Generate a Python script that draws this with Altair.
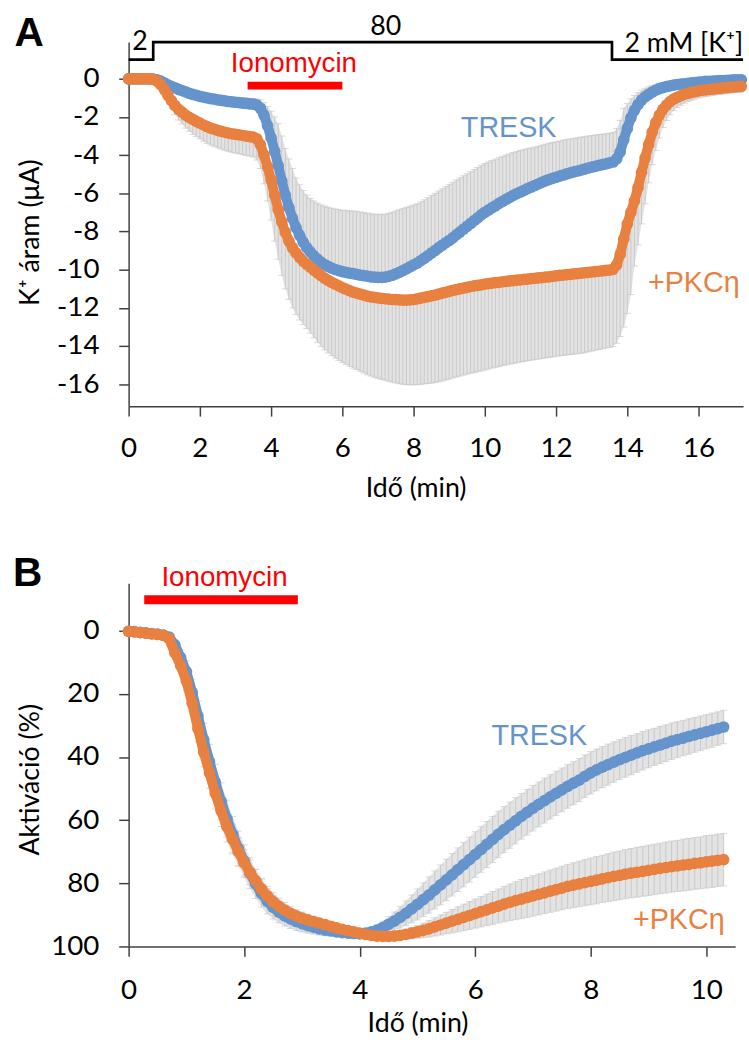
import altair as alt
import pandas as pd

BLUE = "#6594CC"
ORANGE = "#E8803F"
RED = "#FF0000"
GREY_BAR = "#C9C9C9"
GREY_FILL = "#E3E3E3"
AXIS = "#404040"

# ---------------- Panel A: K+ current (uA), sampled every 0.1 min ----------------
TRESK_A = [
    0, 0, 0, 0, 0, 0, 0, -0.02, -0.05, -0.12,
    -0.22, -0.32, -0.40, -0.47, -0.55, -0.62, -0.69, -0.76, -0.82, -0.87,
    -0.92, -0.96, -1.00, -1.04, -1.07, -1.10, -1.13, -1.16, -1.19, -1.21,
    -1.23, -1.25, -1.27, -1.29, -1.31, -1.33, -1.38, -1.55, -1.90, -2.45,
    -3.10, -3.80, -4.55, -5.35, -6.10, -6.75, -7.30, -7.80, -8.20, -8.55,
    -8.84, -9.07, -9.27, -9.45, -9.60, -9.73, -9.83, -9.92, -9.99, -10.05,
    -10.10, -10.14, -10.18, -10.21, -10.24, -10.28, -10.31, -10.34, -10.37, -10.39,
    -10.40, -10.40, -10.39, -10.35, -10.29, -10.22, -10.14, -10.05, -9.95, -9.85,
    -9.75, -9.65, -9.53, -9.40, -9.27, -9.13, -9.00, -8.86, -8.72, -8.60,
    -8.47, -8.33, -8.18, -8.03, -7.88, -7.73, -7.58, -7.43, -7.28, -7.13,
    -7.00, -6.88, -6.76, -6.65, -6.53, -6.42, -6.31, -6.21, -6.11, -6.02,
    -5.93, -5.84, -5.75, -5.67, -5.59, -5.51, -5.43, -5.35, -5.28, -5.22,
    -5.16, -5.10, -5.04, -4.98, -4.93, -4.88, -4.83, -4.78, -4.73, -4.68,
    -4.63, -4.59, -4.54, -4.50, -4.46, -4.41, -4.36, -4.20, -3.83, -3.20,
    -2.60, -2.05, -1.65, -1.35, -1.12, -0.95, -0.82, -0.70, -0.60, -0.52,
    -0.46, -0.41, -0.37, -0.33, -0.30, -0.28, -0.26, -0.24, -0.22, -0.20,
    -0.18, -0.16, -0.14, -0.13, -0.12, -0.11, -0.10, -0.09, -0.08, -0.07,
    -0.06, -0.05, -0.05,
]
TRESK_A_ERR = [
    0.02, 0.02, 0.02, 0.02, 0.02, 0.02, 0.02, 0.02, 0.03, 0.05,
    0.07, 0.09, 0.11, 0.13, 0.15, 0.16, 0.17, 0.18, 0.19, 0.20,
    0.21, 0.22, 0.22, 0.23, 0.23, 0.24, 0.24, 0.25, 0.25, 0.26,
    0.26, 0.27, 0.27, 0.28, 0.28, 0.28, 0.32, 0.45, 0.65, 1.00,
    1.40, 1.80, 2.20, 2.35, 2.45, 2.55, 2.60, 2.60, 2.65, 2.70,
    2.75, 2.80, 2.87, 2.94, 3.00, 3.06, 3.10, 3.14, 3.17, 3.20,
    3.22, 3.24, 3.26, 3.28, 3.30, 3.30, 3.30, 3.30, 3.30, 3.30,
    3.30, 3.30, 3.30, 3.30, 3.30, 3.30, 3.28, 3.26, 3.22, 3.18,
    3.14, 3.10, 3.08, 3.06, 3.04, 3.02, 3.00, 2.98, 2.96, 2.95,
    2.94, 2.91, 2.88, 2.84, 2.80, 2.76, 2.72, 2.68, 2.64, 2.60,
    2.56, 2.52, 2.48, 2.44, 2.40, 2.36, 2.32, 2.28, 2.25, 2.21,
    2.17, 2.13, 2.09, 2.05, 2.01, 1.98, 1.95, 1.92, 1.90, 1.88,
    1.86, 1.84, 1.82, 1.80, 1.78, 1.76, 1.74, 1.72, 1.70, 1.68,
    1.66, 1.64, 1.62, 1.60, 1.58, 1.56, 1.55, 1.60, 1.65, 1.65,
    1.30, 1.00, 0.78, 0.62, 0.52, 0.45, 0.40, 0.35, 0.31, 0.28,
    0.25, 0.23, 0.21, 0.20, 0.19, 0.18, 0.17, 0.16, 0.15, 0.15,
    0.14, 0.14, 0.13, 0.13, 0.12, 0.12, 0.11, 0.11, 0.10, 0.10,
    0.10, 0.10, 0.10,
]
PKC_A = [
    0, 0, 0, 0, 0, 0, 0, -0.03, -0.12, -0.30,
    -0.55, -0.85, -1.15, -1.40, -1.60, -1.75, -1.90, -2.02, -2.13, -2.23,
    -2.32, -2.42, -2.51, -2.58, -2.64, -2.70, -2.75, -2.80, -2.84, -2.88,
    -2.91, -2.94, -2.97, -3.00, -3.03, -3.06, -3.15, -3.45, -4.00, -4.60,
    -5.30, -6.10, -6.85, -7.50, -8.05, -8.50, -8.85, -9.12, -9.35, -9.55,
    -9.72, -9.87, -10.02, -10.17, -10.31, -10.44, -10.56, -10.66, -10.76, -10.85,
    -10.94, -11.02, -11.10, -11.17, -11.23, -11.28, -11.33, -11.38, -11.42, -11.45,
    -11.48, -11.50, -11.52, -11.54, -11.56, -11.57, -11.58, -11.59, -11.59, -11.58,
    -11.56, -11.53, -11.49, -11.45, -11.41, -11.37, -11.33, -11.28, -11.23, -11.18,
    -11.13, -11.08, -11.04, -11.00, -10.96, -10.92, -10.88, -10.85, -10.82, -10.79,
    -10.76, -10.73, -10.70, -10.68, -10.66, -10.63, -10.61, -10.59, -10.57, -10.55,
    -10.53, -10.51, -10.49, -10.47, -10.45, -10.43, -10.41, -10.39, -10.37, -10.35,
    -10.32, -10.30, -10.28, -10.26, -10.24, -10.22, -10.20, -10.18, -10.16, -10.14,
    -10.12, -10.10, -10.08, -10.06, -10.04, -10.02, -9.98, -9.75, -9.20, -8.40,
    -7.60, -7.00, -6.40, -5.70, -4.90, -4.15, -3.45, -2.80, -2.30, -1.90,
    -1.60, -1.38, -1.20, -1.07, -0.97, -0.89, -0.82, -0.76, -0.71, -0.67,
    -0.63, -0.60, -0.58, -0.56, -0.54, -0.52, -0.50, -0.48, -0.46, -0.44,
    -0.42, -0.41, -0.40,
]
PKC_A_ERR = [
    0.02, 0.02, 0.02, 0.02, 0.02, 0.02, 0.02, 0.03, 0.05, 0.10,
    0.18, 0.28, 0.38, 0.48, 0.56, 0.62, 0.68, 0.73, 0.77, 0.80,
    0.83, 0.85, 0.87, 0.89, 0.90, 0.92, 0.93, 0.95, 0.96, 0.97,
    0.98, 0.99, 1.00, 1.01, 1.02, 1.04, 1.10, 1.25, 1.50, 1.80,
    2.10, 2.40, 2.60, 2.80, 2.95, 3.05, 3.15, 3.22, 3.28, 3.32,
    3.36, 3.45, 3.55, 3.63, 3.70, 3.76, 3.80, 3.84, 3.87, 3.90,
    3.92, 3.94, 3.96, 3.98, 4.00, 4.04, 4.08, 4.12, 4.15, 4.18,
    4.21, 4.24, 4.27, 4.30, 4.33, 4.36, 4.39, 4.41, 4.43, 4.45,
    4.47, 4.49, 4.51, 4.53, 4.55, 4.57, 4.58, 4.59, 4.60, 4.60,
    4.60, 4.59, 4.58, 4.57, 4.56, 4.55, 4.54, 4.53, 4.52, 4.51,
    4.49, 4.47, 4.45, 4.43, 4.41, 4.39, 4.37, 4.35, 4.34, 4.32,
    4.30, 4.29, 4.28, 4.27, 4.26, 4.25, 4.24, 4.23, 4.22, 4.22,
    4.21, 4.21, 4.21, 4.20, 4.20, 4.20, 4.20, 4.20, 4.18, 4.16,
    4.14, 4.12, 4.10, 4.08, 4.06, 4.05, 4.04, 4.10, 4.30, 4.60,
    4.70, 4.30, 3.40, 3.00, 2.70, 2.40, 2.00, 1.70, 1.45, 1.20,
    0.95, 0.80, 0.68, 0.60, 0.54, 0.50, 0.46, 0.43, 0.41, 0.39,
    0.37, 0.36, 0.35, 0.34, 0.33, 0.32, 0.32, 0.31, 0.31, 0.30,
    0.30, 0.30, 0.30,
]

# ---------------- Panel B: activation (%), sampled every 0.1 min ----------------
TRESK_B = [
    0.2, 0.3, 0.5, 0.7, 0.9, 1.1, 1.4, 2.0, 4.5, 8.5,
    13.0, 19.5, 27.0, 34.5, 41.5, 48.0, 54.0, 59.5, 64.5, 69.0,
    73.0, 76.8, 80.2, 83.2, 85.7, 87.6, 89.1, 90.3, 91.3, 92.1,
    92.8, 93.4, 93.9, 94.4, 94.8, 95.1, 95.4, 95.6, 95.8, 95.9,
    96.0, 95.8, 95.4, 94.8, 94.0, 93.0, 92.0, 90.8, 89.5, 88.1,
    86.7, 85.2, 83.7, 82.1, 80.5, 78.9, 77.3, 75.7, 74.1, 72.5,
    70.9, 69.3, 67.7, 66.1, 64.5, 63.0, 61.6, 60.2, 58.8, 57.5,
    56.2, 55.0, 53.8, 52.6, 51.5, 50.4, 49.3, 48.3, 47.3, 46.1,
    45.0, 44.1, 43.2, 42.4, 41.6, 40.8, 40.1, 39.4, 38.7, 38.0,
    37.4, 36.8, 36.2, 35.6, 35.0, 34.5, 34.0, 33.5, 33.0, 32.5,
    32.0, 31.5, 31.0, 30.5,
]
TRESK_B_ERR = [
    0.2, 0.2, 0.3, 0.3, 0.3, 0.4, 0.5, 0.8, 1.5, 2.5,
    3.5, 4.2, 4.8, 5.2, 5.5, 5.7, 5.8, 5.8, 5.7, 5.5,
    5.2, 4.9, 4.6, 4.3, 4.0, 3.7, 3.4, 3.2, 3.0, 2.8,
    2.6, 2.4, 2.2, 2.0, 1.8, 1.6, 1.4, 1.2, 1.1, 1.0,
    1.0, 1.1, 1.3, 1.6, 2.0, 2.4, 2.9, 3.4, 3.9, 4.4,
    4.9, 5.3, 5.7, 6.0, 6.3, 6.5, 6.7, 6.9, 7.0, 7.1,
    7.2, 7.2, 7.3, 7.3, 7.3, 7.3, 7.3, 7.3, 7.2, 7.2,
    7.2, 7.1, 7.1, 7.0, 7.0, 6.9, 6.9, 6.8, 6.8, 6.7,
    6.7, 6.6, 6.5, 6.5, 6.4, 6.3, 6.3, 6.2, 6.1, 6.1,
    6.0, 5.9, 5.9, 5.8, 5.8, 5.7, 5.6, 5.6, 5.5, 5.5,
    5.4, 5.4, 5.3, 5.3,
]
PKC_B = [
    0.2, 0.4, 0.6, 0.8, 1.0, 1.2, 1.5, 2.5, 7.0, 11.0,
    16.0, 23.0, 31.0, 38.5, 45.0, 51.5, 57.0, 62.0, 66.0, 70.0,
    73.5, 76.5, 79.2, 81.8, 84.0, 85.8, 87.3, 88.5, 89.5, 90.3,
    91.0, 91.6, 92.1, 92.6, 93.1, 93.6, 94.1, 94.6, 95.0, 95.4,
    95.8, 96.2, 96.5, 96.7, 96.8, 96.8, 96.7, 96.5, 96.2, 95.8,
    95.4, 94.9, 94.4, 93.8, 93.2, 92.6, 92.0, 91.4, 90.8, 90.2,
    89.6, 89.0, 88.4, 87.8, 87.2, 86.6, 86.0, 85.5, 85.0, 84.5,
    84.0, 83.5, 83.0, 82.5, 82.0, 81.5, 81.0, 80.6, 80.2, 79.8,
    79.4, 79.0, 78.6, 78.2, 77.8, 77.5, 77.1, 76.8, 76.5, 76.2,
    75.9, 75.6, 75.3, 75.0, 74.7, 74.5, 74.2, 74.0, 73.7, 73.5,
    73.2, 73.0, 72.7, 72.5,
]
PKC_B_ERR = [
    0.2, 0.2, 0.3, 0.3, 0.3, 0.4, 0.5, 0.7, 1.2, 2.0,
    3.0, 3.7, 4.2, 4.6, 4.9, 5.0, 5.0, 4.9, 4.7, 4.5,
    4.2, 3.9, 3.6, 3.3, 3.0, 2.8, 2.6, 2.4, 2.2, 2.0,
    1.9, 1.8, 1.7, 1.6, 1.5, 1.4, 1.3, 1.2, 1.1, 1.0,
    0.9, 0.9, 0.9, 0.9, 1.0, 1.0, 1.1, 1.3, 1.5, 1.8,
    2.0, 2.3, 2.6, 2.9, 3.2, 3.4, 3.7, 4.0, 4.2, 4.4,
    4.6, 4.8, 5.0, 5.2, 5.4, 5.6, 5.8, 6.0, 6.2, 6.3,
    6.4, 6.5, 6.6, 6.7, 6.8, 6.9, 7.0, 7.1, 7.2, 7.3,
    7.4, 7.5, 7.5, 7.6, 7.7, 7.7, 7.8, 7.8, 7.9, 7.9,
    8.0, 8.0, 8.0, 8.1, 8.1, 8.1, 8.2, 8.2, 8.2, 8.2,
    8.3, 8.3, 8.3, 8.3,
]

X_TICKS_A = [0, 2, 4, 6, 8, 10, 12, 14, 16]
Y_TICKS_A = [0, -2, -4, -6, -8, -10, -12, -14, -16]
X_TICKS_B = [0, 2, 4, 6, 8, 10]
Y_TICKS_B = [0, 20, 40, 60, 80, 100]

TIME_A = [round(0.1 * i, 1) for i in range(len(TRESK_A))]
TIME_B = [round(0.1 * i, 1) for i in range(len(TRESK_B))]

dfA = pd.DataFrame({"t": TIME_A, "tresk": TRESK_A, "terr": TRESK_A_ERR,
                    "pkc": PKC_A, "perr": PKC_A_ERR})
dfA["tresk_hi"] = dfA["tresk"] + dfA["terr"]
dfA["pkc_lo"] = dfA["pkc"] - dfA["perr"]

dfB = pd.DataFrame({"t": TIME_B, "tresk": TRESK_B, "terr": TRESK_B_ERR,
                    "pkc": PKC_B, "perr": PKC_B_ERR})
dfB["tresk_hi"] = dfB["tresk"] + dfB["terr"]
dfB["tresk_lo"] = dfB["tresk"] - dfB["terr"]
dfB["pkc_hi"] = dfB["pkc"] + dfB["perr"]
dfB["pkc_lo"] = dfB["pkc"] - dfB["perr"]


def make_axis(values, title, tx, ty, pad, angle):
    return alt.Axis(
        values=values, title=title, titleX=tx, titleY=ty, titleAngle=angle,
        titleAlign="center", titleBaseline="middle",
        titleFont="Lato", titleFontSize=27, titleFontWeight="normal", titleColor="#000000",
        labelFont="Lato", labelFontSize=28, labelColor="#000000", labelPadding=pad,
        labelExpr="'' + datum.value", labelFlush=False, labelOverlap=False,
        tickSize=10, tickWidth=1.5, tickColor=AXIS,
        domainColor=AXIS, domainWidth=1.5, grid=False,
    )


axXA = make_axis(X_TICKS_A, "Idő (min)", 290, 83, 19, 0)
axYA = make_axis(Y_TICKS_A, "K⁺ áram (μA)", -99, 192, 20, 270)
axXB = make_axis(X_TICKS_B, "Idő (min)", 292, 77.5, 21, 0)
axYB = make_axis(Y_TICKS_B, "Aktiváció (%)", -99, 198, 20, 270)

scXA = alt.Scale(domain=[0, 17.25], nice=False, zero=False)
scYA = alt.Scale(domain=[-17.15, 1.92], nice=False, zero=False)
scXB = alt.Scale(domain=[0, 10.5], nice=False, zero=False)
scYB = alt.Scale(domain=[-15, 100], nice=False, zero=False, reverse=True)


def XA(f):
    return alt.X(f, type="quantitative", scale=scXA, axis=axXA)


def YA(f):
    return alt.Y(f, type="quantitative", scale=scYA, axis=axYA)


def XB(f):
    return alt.X(f, type="quantitative", scale=scXB, axis=axXB)


def YB(f):
    return alt.Y(f, type="quantitative", scale=scYB, axis=axYB)


def label(X, Y, x, y, txt, color, size, align="center", font="Liberation Sans", weight="normal"):
    d = pd.DataFrame({"x": [x], "y": [y], "txt": [txt]})
    return alt.Chart(d).mark_text(
        font=font, fontSize=size, fontWeight=weight, color=color,
        align=align, baseline="middle",
    ).encode(x=X("x"), y=Y("y"), text="txt:N")


# ---------------- build panel A ----------------
baseA = alt.Chart(dfA)
layersA = [
    baseA.mark_area(color=GREY_FILL).encode(x=XA("t"), y=YA("tresk"), y2="tresk_hi:Q"),
    baseA.mark_area(color=GREY_FILL).encode(x=XA("t"), y=YA("pkc_lo"), y2="pkc:Q"),
    baseA.mark_rule(color=GREY_BAR, strokeWidth=1).encode(x=XA("t"), y=YA("tresk"), y2="tresk_hi:Q"),
    baseA.mark_rule(color=GREY_BAR, strokeWidth=1).encode(x=XA("t"), y=YA("pkc_lo"), y2="pkc:Q"),
    baseA.mark_tick(color=GREY_BAR, orient="horizontal", size=7, thickness=1).encode(x=XA("t"), y=YA("tresk_hi")),
    baseA.mark_tick(color=GREY_BAR, orient="horizontal", size=7, thickness=1).encode(x=XA("t"), y=YA("pkc_lo")),
    baseA.mark_line(color=BLUE, strokeWidth=10, strokeCap="round", strokeJoin="round").encode(x=XA("t"), y=YA("tresk")),
    baseA.mark_circle(color=BLUE, size=140, opacity=1).encode(x=XA("t"), y=YA("tresk")),
    baseA.mark_line(color=ORANGE, strokeWidth=10, strokeCap="round", strokeJoin="round").encode(x=XA("t"), y=YA("pkc")),
    baseA.mark_circle(color=ORANGE, size=140, opacity=1).encode(x=XA("t"), y=YA("pkc")),
]

# solution bracket: 2 -> 80 -> 2 mM K+
BRACKET_X = [0, 0.69, 0.69, 13.57, 13.57, 17.25]
BRACKET_Y = [1.0, 1.0, 1.92, 1.92, 1.0, 1.0]
dfBr = pd.DataFrame({"x": BRACKET_X, "y": BRACKET_Y, "i": list(range(len(BRACKET_X)))})
layersA.append(alt.Chart(dfBr).mark_line(color="#000000", strokeWidth=2.7, strokeJoin="miter")
               .encode(x=XA("x"), y=YA("y"), order="i:Q"))

dfIonoA = pd.DataFrame({"x": [3.34], "x2": [6.0], "y": [-0.36]})
layersA.append(alt.Chart(dfIonoA).mark_rule(color=RED, strokeWidth=8, strokeCap="butt")
               .encode(x=XA("x"), x2="x2:Q", y=YA("y")))

layersA += [
    label(XA, YA, 4.64, 0.75, "Ionomycin", RED, 28),
    label(XA, YA, 10.67, -2.59, "TRESK", BLUE, 29),
    label(XA, YA, 14.58, -10.7, "+PKCη", ORANGE, 29, align="left"),
    label(XA, YA, 0.32, 1.92, "2", "#000000", 27, font="Lato"),
    label(XA, YA, 7.22, 2.72, "80", "#000000", 27, font="Lato"),
    label(XA, YA, 13.92, 1.83, "2 mM [K⁺]", "#000000", 27, align="left", font="Lato"),
    label(XA, YA, -2.79, 2.35, "A", "#000000", 41, weight="bold"),
]

chartA = alt.layer(*layersA).properties(width=621, height=368)

# ---------------- build panel B ----------------
baseB = alt.Chart(dfB)
layersB = [
    baseB.mark_area(color=GREY_FILL).encode(x=XB("t"), y=YB("tresk_lo"), y2="tresk_hi:Q"),
    baseB.mark_area(color=GREY_FILL).encode(x=XB("t"), y=YB("pkc_lo"), y2="pkc_hi:Q"),
    baseB.mark_rule(color=GREY_BAR, strokeWidth=1).encode(x=XB("t"), y=YB("tresk_lo"), y2="tresk_hi:Q"),
    baseB.mark_rule(color=GREY_BAR, strokeWidth=1).encode(x=XB("t"), y=YB("pkc_lo"), y2="pkc_hi:Q"),
    baseB.mark_tick(color=GREY_BAR, orient="horizontal", size=7, thickness=1).encode(x=XB("t"), y=YB("tresk_lo")),
    baseB.mark_tick(color=GREY_BAR, orient="horizontal", size=7, thickness=1).encode(x=XB("t"), y=YB("tresk_hi")),
    baseB.mark_tick(color=GREY_BAR, orient="horizontal", size=7, thickness=1).encode(x=XB("t"), y=YB("pkc_lo")),
    baseB.mark_tick(color=GREY_BAR, orient="horizontal", size=7, thickness=1).encode(x=XB("t"), y=YB("pkc_hi")),
    baseB.mark_line(color=BLUE, strokeWidth=10, strokeCap="round", strokeJoin="round").encode(x=XB("t"), y=YB("tresk")),
    baseB.mark_circle(color=BLUE, size=140, opacity=1).encode(x=XB("t"), y=YB("tresk")),
    baseB.mark_line(color=ORANGE, strokeWidth=10, strokeCap="round", strokeJoin="round").encode(x=XB("t"), y=YB("pkc")),
    baseB.mark_circle(color=ORANGE, size=140, opacity=1).encode(x=XB("t"), y=YB("pkc")),
]
dfIonoB = pd.DataFrame({"x": [0.27], "x2": [2.93], "y": [-9.8]})
layersB.append(alt.Chart(dfIonoB).mark_rule(color=RED, strokeWidth=9, strokeCap="butt")
               .encode(x=XB("x"), x2="x2:Q", y=YB("y")))
layersB += [
    label(XB, YB, 1.66, -16.6, "Ionomycin", RED, 28),
    label(XB, YB, 7.11, 33.5, "TRESK", BLUE, 29),
    label(XB, YB, 8.73, 91.5, "+PKCη", ORANGE, 29, align="left"),
    label(XB, YB, -1.75, -17.8, "B", "#000000", 41, weight="bold"),
]
chartB = alt.layer(*layersB).properties(width=613, height=367)

chart = (
    alt.vconcat(chartA, chartB, spacing=53)
    .properties(padding={"left": 13, "top": 7, "right": 0, "bottom": 0}, background="#FFFFFF")
    .configure_view(stroke=None)
)

chart.save("out.html", embed_options={"renderer": "svg", "actions": False})
